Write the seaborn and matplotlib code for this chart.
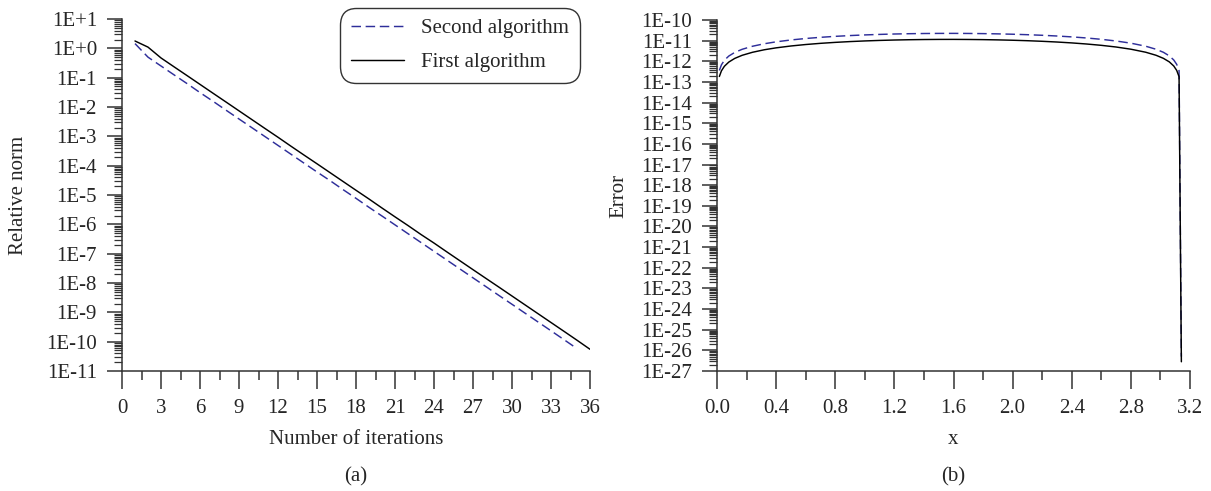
import numpy as np
import pandas as pd
import matplotlib
matplotlib.use("Agg")
import matplotlib.pyplot as plt
from matplotlib.ticker import FixedLocator, LogLocator, FuncFormatter, MultipleLocator, NullFormatter
import seaborn as sns

# ---------------- data: panel (a) ----------------
iter_first = list(range(1, 37))
norm_first = [1.78, 1.1, 0.47, 0.235, 0.118, 0.059, 0.0295, 0.0148, 7.4e-3, 3.7e-3,
              1.85e-3, 9.3e-4, 4.6e-4, 2.3e-4, 1.16e-4, 5.8e-5, 2.9e-5, 1.45e-5, 7.3e-6, 3.6e-6,
              1.8e-6, 9.1e-7, 4.5e-7, 2.3e-7, 1.14e-7, 5.7e-8, 2.85e-8, 1.43e-8, 7.2e-9, 3.6e-9,
              1.8e-9, 9.0e-10, 4.5e-10, 2.25e-10, 1.12e-10, 5.5e-11]
iter_second = list(range(1, 36))
norm_second = [1.45, 0.50, 0.25, 0.125, 0.063, 0.031, 0.0157, 7.8e-3, 3.9e-3, 1.96e-3,
               9.8e-4, 4.9e-4, 2.45e-4, 1.22e-4, 6.1e-5, 3.1e-5, 1.53e-5, 7.7e-6, 3.8e-6, 1.92e-6,
               9.6e-7, 4.8e-7, 2.4e-7, 1.2e-7, 6.0e-8, 3.0e-8, 1.5e-8, 7.5e-9, 3.75e-9, 1.88e-9,
               9.4e-10, 4.7e-10, 2.35e-10, 1.17e-10, 5.8e-11]

# ---------------- data: panel (b) ----------------
x_err = [0.016, 0.03, 0.05, 0.08, 0.12, 0.17, 0.24, 0.32, 0.4, 0.5, 0.6, 0.7, 0.8, 0.9,
         1.0, 1.1, 1.2, 1.3, 1.4, 1.5, 1.6, 1.7, 1.8, 1.9, 2.0, 2.1, 2.2, 2.3, 2.4, 2.5,
         2.6, 2.7, 2.8, 2.9, 2.97, 3.02, 3.06, 3.09, 3.11, 3.126, 3.1416]
err_first = [1.84e-13, 3.45e-13, 5.75e-13, 9.19e-13, 1.38e-12, 1.95e-12, 2.73e-12, 3.62e-12,
             4.48e-12, 5.51e-12, 6.49e-12, 7.41e-12, 8.25e-12, 9.01e-12, 9.68e-12, 1.025e-11,
             1.072e-11, 1.108e-11, 1.133e-11, 1.147e-11, 1.150e-11, 1.140e-11, 1.120e-11,
             1.088e-11, 1.046e-11, 9.93e-12, 9.30e-12, 8.58e-12, 7.77e-12, 6.88e-12, 5.93e-12,
             4.92e-12, 3.85e-12, 2.75e-12, 1.96e-12, 1.39e-12, 9.37e-13, 5.93e-13, 3.63e-13,
             1.79e-13, 2.8e-27]
err_second = [3.6e-13, 6.75e-13, 1.125e-12, 1.80e-12, 2.69e-12, 3.81e-12, 5.35e-12, 7.08e-12,
              8.76e-12, 1.079e-11, 1.270e-11, 1.449e-11, 1.614e-11, 1.762e-11, 1.893e-11,
              2.005e-11, 2.097e-11, 2.168e-11, 2.217e-11, 2.244e-11, 2.249e-11, 2.231e-11,
              2.191e-11, 2.129e-11, 2.046e-11, 1.942e-11, 1.819e-11, 1.678e-11, 1.520e-11,
              1.347e-11, 1.160e-11, 9.62e-12, 7.54e-12, 5.38e-12, 3.83e-12, 2.73e-12, 1.83e-12,
              1.16e-12, 7.11e-13, 3.51e-13, 5.0e-27]

# ticks
a_xticks = [0, 3, 6, 9, 12, 15, 18, 21, 24, 27, 30, 33, 36]
a_yexp = list(range(1, -12, -1))
b_xticks = [0.0, 0.4, 0.8, 1.2, 1.6, 2.0, 2.4, 2.8, 3.2]
b_yexp = list(range(-10, -28, -1))

label_second = "Second algorithm"
label_first = "First algorithm"

sns.set_style("ticks")
plt.rcParams['font.family'] = ['Liberation Serif', 'DejaVu Serif']

FS = 15
BLUE = "#2e2e9a"
AX = "#333333"
W, H = 1211, 491
fig = plt.figure(figsize=(W / 100, H / 100), dpi=100)

ax1 = fig.add_axes([122 / W, 1 - 371 / H, 468 / W, 352 / H])
ax2 = fig.add_axes([717 / W, 1 - 371 / H, 473 / W, 351 / H])

dash = (0, (6.5, 3.2))

df_s = pd.DataFrame({"it": iter_second, "v": norm_second})
df_f = pd.DataFrame({"it": iter_first, "v": norm_first})
sns.lineplot(data=df_s, x="it", y="v", ax=ax1, color=BLUE, lw=1.05, linestyle=dash, label=label_second)
sns.lineplot(data=df_f, x="it", y="v", ax=ax1, color="black", lw=1.05, label=label_first)

df_bs = pd.DataFrame({"x": x_err, "v": err_second})
df_bf = pd.DataFrame({"x": x_err, "v": err_first})
sns.lineplot(data=df_bs, x="x", y="v", ax=ax2, color=BLUE, lw=1.05, linestyle=dash, sort=False)
sns.lineplot(data=df_bf, x="x", y="v", ax=ax2, color="black", lw=1.05, sort=False)


def efmt(v, pos):
    if v <= 0:
        return ""
    e = int(round(np.log10(v)))
    return "1E+%d" % e if e >= 0 else "1E%d" % e


for ax, xt, yexp, xminor, xfmt in [(ax1, a_xticks, a_yexp, 1.5, "%d"), (ax2, b_xticks, b_yexp, 0.2, "%.1f")]:
    ax.set_yscale("log")
    ax.set_xlim(xt[0], xt[-1])
    ax.set_ylim(10.0 ** yexp[-1], 10.0 ** yexp[0])
    ax.xaxis.set_major_locator(FixedLocator(xt))
    ax.xaxis.set_minor_locator(MultipleLocator(xminor))
    ax.xaxis.set_major_formatter(FuncFormatter(lambda v, p, f=xfmt: f % v))
    ax.yaxis.set_major_locator(FixedLocator([10.0 ** e for e in yexp]))
    ax.yaxis.set_minor_locator(LogLocator(base=10, subs=np.arange(2, 10), numticks=1000))
    ax.yaxis.set_major_formatter(FuncFormatter(efmt))
    ax.yaxis.set_minor_formatter(NullFormatter())
    for s in ["top", "right"]:
        ax.spines[s].set_visible(False)
    for s in ["left", "bottom"]:
        ax.spines[s].set_color(AX)
        ax.spines[s].set_linewidth(1.1)
    ax.tick_params(axis="x", which="major", direction="out", length=13, width=1.1, color=AX, pad=7, labelsize=FS)
    ax.tick_params(axis="x", which="minor", direction="out", length=6.5, width=1.1, color=AX)
    ax.tick_params(axis="y", which="major", direction="out", length=11, width=1.1, color=AX, pad=7, labelsize=FS)
    ax.tick_params(axis="y", which="minor", direction="out", length=6, width=0.9, color=AX)
    ax.set_facecolor("white")

ax1.set_xlabel("Number of iterations", fontsize=FS)
ax1.set_ylabel("Relative norm", fontsize=FS)
ax2.set_xlabel("x", fontsize=FS)
ax2.set_ylabel("Error", fontsize=FS)
ax1.xaxis.set_label_coords(0.5, (371 - 440) / 352)
ax2.xaxis.set_label_coords(0.5, (371 - 440) / 351)
ax1.xaxis.label.set_va("center")
ax2.xaxis.label.set_va("center")
ax1.yaxis.set_label_coords((19 - 122) / 468, 0.5)
ax2.yaxis.set_label_coords((619 - 717) / 473, 0.5)
ax1.yaxis.label.set_va("center")
ax2.yaxis.label.set_va("center")

fig.text((122 + 590) / 2 / W, 1 - 477 / H, "(a)", ha="center", va="center", fontsize=FS)
fig.text((717 + 1190) / 2 / W, 1 - 477 / H, "(b)", ha="center", va="center", fontsize=FS)

leg = ax1.legend(loc="upper right", bbox_to_anchor=(576 / W, 1 - 12 / H), bbox_transform=fig.transFigure,
                 fontsize=FS, frameon=True, fancybox=True, handlelength=2.55, handletextpad=0.85,
                 labelspacing=0.68, borderpad=0.32, borderaxespad=0)
fr = leg.get_frame()
fr.set_edgecolor("#333333")
fr.set_linewidth(1.0)
fr.set_alpha(1)
fr.set_boxstyle("round", pad=0.2, rounding_size=0.8)

fig.savefig("out.png", dpi=100, facecolor="white")
